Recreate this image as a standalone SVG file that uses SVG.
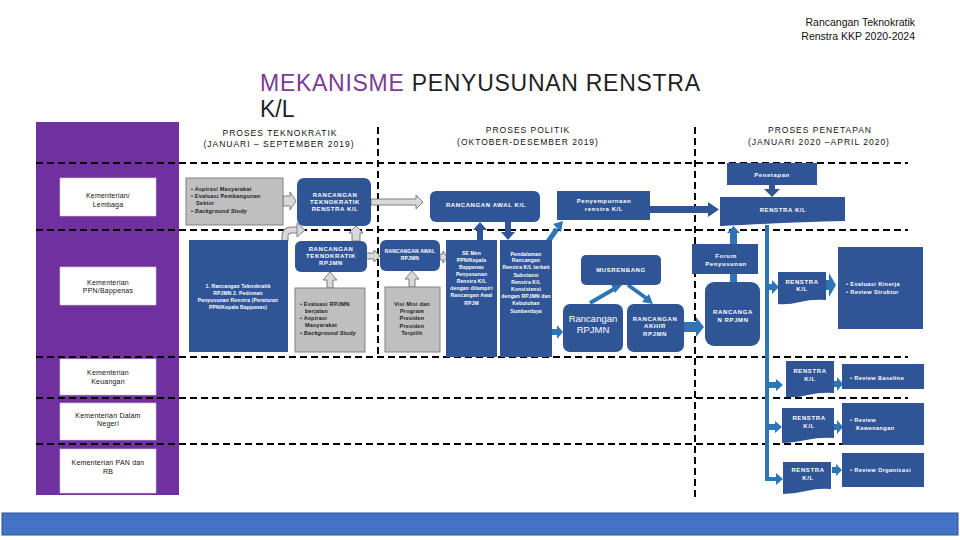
<svg xmlns="http://www.w3.org/2000/svg" width="960" height="540" viewBox="0 0 960 540">
<style>
.f{font-family:"Liberation Sans",Arial,sans-serif}
.bx{fill:#2F5597}
.gb{fill:#BFBFBF;stroke:#808080;stroke-width:1}
.wb{fill:#fff;stroke:#d0d0d0;stroke-width:0.6}
.ga{fill:#D9D9D9;stroke:#7F7F7F;stroke-width:1}
.la{fill:#2E75B6}
.da{fill:#2F5597}
.dash{stroke:#000;stroke-width:2;stroke-dasharray:7 4;fill:none}
.wt{fill:#fff;font-size:6px;font-weight:bold;text-anchor:middle;letter-spacing:0.6px}
.ws{fill:#fff;font-size:5px;font-weight:bold;text-anchor:middle;letter-spacing:0.15px}
.wl{fill:#fff;font-size:5.6px;font-weight:bold;letter-spacing:0.4px}
.bt{fill:#222;font-size:5.5px;font-weight:bold;letter-spacing:0.2px}
.kt{fill:#111;font-size:7px;text-anchor:middle;letter-spacing:0.2px}
.hd{fill:#111;font-size:8.5px;text-anchor:middle;letter-spacing:1px}
</style>
<rect width="960" height="540" fill="#fff"/>

<!-- header -->
<text class="f" x="915" y="26" font-size="10.5" text-anchor="end" fill="#111">Rancangan Teknokratik</text>
<text class="f" x="915" y="40" font-size="10.5" text-anchor="end" fill="#111">Renstra KKP 2020-2024</text>
<text class="f" x="260" y="91" font-size="23" fill="#1f1f1f" textLength="440" lengthAdjust="spacing"><tspan fill="#7B3A96">MEKANISME</tspan> PENYUSUNAN RENSTRA</text>
<text class="f" x="260" y="117" font-size="23" fill="#1f1f1f">K/L</text>

<!-- purple column -->
<rect x="36" y="122" width="143" height="373" fill="#7030A0"/>

<!-- column headers -->
<text class="f hd" x="280" y="136">PROSES TEKNOKRATIK</text>
<text class="f hd" x="279" y="147">(JANUARI – SEPTEMBER 2019)</text>
<text class="f hd" x="528" y="133">PROSES POLITIK</text>
<text class="f hd" x="528" y="145">(OKTOBER-DESEMBER 2019)</text>
<text class="f hd" x="820" y="133">PROSES PENETAPAN</text>
<text class="f hd" x="819" y="145">(JANUARI 2020 –APRIL 2020)</text>

<!-- dashed grid -->
<g id="grid">
<line class="dash" x1="36" y1="163" x2="908" y2="163"/>
<line class="dash" x1="36" y1="230" x2="908" y2="230"/>
<line class="dash" x1="36" y1="357" x2="908" y2="357"/>
<line class="dash" x1="36" y1="398" x2="908" y2="398"/>
<line class="dash" x1="36" y1="444" x2="910" y2="444"/>
<line class="dash" x1="378" y1="127" x2="378" y2="357"/>
<line class="dash" x1="695" y1="127" x2="695" y2="497"/>
</g>

<!-- left labels -->
<g id="kl"><rect class="wb" x="60" y="178" width="96" height="38"/>
<text class="f kt" x="108" y="198">Kementerian/</text><text class="f kt" x="108" y="207">Lembaga</text></g>
<g id="ppn"><rect class="wb" x="60" y="267" width="96" height="38"/>
<text class="f kt" x="108" y="285">Kementerian</text><text class="f kt" x="108" y="293">PPN/Bappenas</text></g>
<g id="keu"><rect class="wb" x="60" y="359" width="96" height="36"/>
<text class="f kt" x="108" y="375">Kementerian</text><text class="f kt" x="108" y="384">Keuangan</text></g>
<g id="dn"><rect class="wb" x="60" y="403" width="96" height="37"/>
<text class="f kt" x="108" y="418">Kementerian Dalam</text><text class="f kt" x="108" y="426">Negeri</text></g>
<g id="pan"><rect class="wb" x="60" y="449" width="96" height="44"/>
<text class="f kt" x="108" y="465">Kementerian PAN dan</text><text class="f kt" x="108" y="474">RB</text></g>

<!-- connectors -->
<g id="connectors">
<polygon class="ga" points="283,196 290,196 290,192 296,201 290,210 290,206 283,206"/>
<polygon class="ga" points="371,199 416,199 416,195 423,202 416,209 416,205 371,205"/>
<polygon class="ga" points="352,241 352,233 349,233 356,226 363,233 360,233 360,241"/>
<path d="M285,241 V236 Q285,230 292,230 H298" fill="none" stroke="#7F7F7F" stroke-width="7"/>
<path d="M285,241 V236 Q285,230 292,230 H298" fill="none" stroke="#D9D9D9" stroke-width="5"/>
<polygon class="ga" points="297,223 305,230 297,237"/>
<polygon class="ga" points="327,288 327,280 323,280 330,272 337,280 333,280 333,288"/>
<polygon class="ga" points="366,253 374,253 374,250 380,256 374,262 374,259 366,259"/>
<polygon class="ga" points="409,287 409,279 405,279 412,271 419,279 415,279 415,287"/>
<polygon class="ga" points="440,254 443,254 443,251 447,257 443,263 443,260 440,260"/>
<polygon class="da" points="477,240 477,230 473,230 480,222 487,230 483,230 483,240"/>
<polygon class="da" points="505,222 511,222 511,232 515,232 508,240 501,232 505,232"/>
<line x1="547" y1="243" x2="557" y2="229" stroke="#2E75B6" stroke-width="5"/>
<polygon class="la" points="553,224 563,221 561,232"/>
<polygon class="da" points="650,206 708,206 708,202 719,209.5 708,217 708,213 650,213"/>
<polygon class="da" points="769,185 775,185 775,189 780,189 772,197 764,189 769,189"/>
<polygon class="la" points="730,244 730,233 727,233 733.5,226 740,233 737,233 737,244"/>
<rect class="la" x="730" y="274" width="7" height="9"/>
<line x1="590" y1="303" x2="614" y2="289" stroke="#2E75B6" stroke-width="4"/>
<polygon class="la" points="611,284 622,285 615,293"/>
<line x1="628" y1="285" x2="646" y2="298" stroke="#2E75B6" stroke-width="4"/>
<polygon class="la" points="642,302 653,304 649,294"/>
<polygon class="la" points="552,329 557,329 557,325 563,332 557,339 557,335 552,335"/>
<polygon class="la" points="684,322 696,322 696,317 704,327 696,337 696,332 684,332"/>
<rect class="la" x="765" y="225" width="4" height="256"/>
<polygon class="la" points="769,284 772,284 772,280 779,287 772,294 772,290 769,290"/>
<polygon class="la" points="769,382 776,382 776,379 783,385 776,391 776,388 769,388"/>
<polygon class="la" points="769,424 775,424 775,421 782,427 775,433 775,430 769,430"/>
<polygon class="la" points="765,477 776,477 776,473 783,479 776,485 776,481 765,481"/>
<polygon class="la" points="826,280 829,280 829,273 836,285 829,297 829,290 826,290"/>
<polygon class="la" points="834,381 837,381 837,377 843,384 837,391 837,387 834,387"/>
<polygon class="la" points="834,424 837,424 837,420 843,427 837,434 837,430 834,430"/>
<polygon class="la" points="832,467 836,467 836,464 842,470 836,476 836,473 832,473"/>
</g>

<!-- row 1 -->
<g id="input1"><rect class="gb" x="186" y="178" width="97" height="47"/>
<text class="f bt" x="191" y="191">• Aspirasi Masyarakat</text>
<text class="f bt" x="191" y="198">• Evaluasi Pembangunan</text>
<text class="f bt" x="196" y="205">Sektor</text>
<text class="f bt" x="191" y="213">• <tspan font-style="italic">Background Study</tspan></text></g>
<g id="rtr"><rect class="bx" x="297" y="178" width="74" height="48" rx="7"/>
<text class="f wt" x="335" y="197">RANCANGAN</text><text class="f wt" x="335" y="204">TEKNOKRATIK</text><text class="f wt" x="335" y="211">RENSTRA K/L</text></g>
<g id="rak"><rect class="bx" x="430" y="191" width="110" height="31" rx="6"/>
<text class="f wt" x="486" y="207">RANCANGAN AWAL K/L</text></g>
<g id="peny"><rect class="bx" x="557" y="191" width="93" height="29"/>
<text class="f wt" x="604" y="203" font-weight="normal">Penyempurnaan</text><text class="f wt" x="604" y="211" font-weight="normal">renstra K/L</text></g>
<g id="penetapan"><rect class="bx" x="727" y="163" width="90" height="22"/>
<text class="f wt" x="772" y="177" font-size="5.5">Penetapan</text></g>
<g id="renstra"><path class="bx" d="M720,197 H845 V221 Q800,222 760,224 T720,226 Z"/>
<text class="f wt" x="783" y="212">RENSTRA K/L</text></g>

<!-- row 2 -->
<g id="bapp"><rect class="bx" x="189" y="240" width="99" height="112"/>
<text class="f ws" x="238" y="288" font-size="5.2">1. Rancangan Teknokratik</text>
<text class="f ws" x="238" y="295" font-size="5.2">RPJMN 2. Pedoman</text>
<text class="f ws" x="238" y="302" font-size="5.2">Penyusunan Renstra (Peraturan</text>
<text class="f ws" x="238" y="309" font-size="5.2">PPN/Kepala Bappenas)</text></g>
<g id="rtrpjmn"><rect class="bx" x="295" y="241" width="72" height="31" rx="6"/>
<text class="f wt" x="331" y="251">RANCANGAN</text><text class="f wt" x="331" y="258">TEKNOKRATIK</text><text class="f wt" x="331" y="265">RPJMN</text></g>
<g id="input2"><rect class="gb" x="295" y="288" width="70" height="64"/>
<text class="f bt" x="300" y="306">• Evaluasi RPJMN</text>
<text class="f bt" x="305" y="313">berjalan</text>
<text class="f bt" x="300" y="320">• Aspirasi</text>
<text class="f bt" x="305" y="327">Masyarakat</text>
<text class="f bt" x="300" y="335">• <tspan font-style="italic">Background Study</tspan></text></g>
<g id="rarpjmn"><rect class="bx" x="380" y="240" width="60" height="31" rx="6"/>
<text class="f ws" x="410" y="253">RANCANGAN AWAL</text><text class="f ws" x="410" y="260">RPJMN</text></g>
<g id="visi"><rect class="gb" x="385" y="287" width="55" height="65"/>
<text class="f bt" x="412" y="306" text-anchor="middle">Visi Misi dan</text>
<text class="f bt" x="412" y="313" text-anchor="middle">Program</text>
<text class="f bt" x="412" y="320" text-anchor="middle">Presiden</text>
<text class="f bt" x="412" y="328" text-anchor="middle">Presiden</text>
<text class="f bt" x="412" y="335" text-anchor="middle">Terpilih</text></g>
<g id="se"><rect class="bx" x="446" y="240" width="51" height="117"/>
<text class="f ws" x="471.5" y="255">SE Men</text>
<text class="f ws" x="471.5" y="262">PPN/Kepala</text>
<text class="f ws" x="471.5" y="269">Bappenas</text>
<text class="f ws" x="471.5" y="276">Penyusunan</text>
<text class="f ws" x="471.5" y="283">Renstra K/L</text>
<text class="f ws" x="471.5" y="290" font-size="4.8" letter-spacing="0">dengan dilampiri</text>
<text class="f ws" x="471.5" y="297" font-size="4.8" letter-spacing="0">Rancangan Awal</text>
<text class="f ws" x="471.5" y="305">RPJM</text></g>
<g id="pend"><rect class="bx" x="500" y="240" width="52" height="117"/>
<text class="f ws" x="526" y="256">Pendalaman</text>
<text class="f ws" x="526" y="262">Rancangan</text>
<text class="f ws" x="526" y="269" font-size="4.8" letter-spacing="0">Renstra K/L terkait</text>
<text class="f ws" x="526" y="277">Substansi</text>
<text class="f ws" x="526" y="284">Renstra K/L</text>
<text class="f ws" x="526" y="291">Konsistensi</text>
<text class="f ws" x="526" y="298" font-size="4.8" letter-spacing="0">dengan RPJMN dan</text>
<text class="f ws" x="526" y="305">Kebutuhan</text>
<text class="f ws" x="526" y="313">Sumberdaya</text></g>
<g id="musren"><rect class="bx" x="581" y="255" width="80" height="30" rx="5"/>
<text class="f wt" x="621" y="272">MUSRENBANG</text></g>
<g id="rrpjmn"><rect class="bx" x="563" y="304" width="60" height="48" rx="7"/>
<text class="f" x="593" y="322" font-size="9.5" fill="#fff" text-anchor="middle">Rancangan</text>
<text class="f" x="593" y="333" font-size="9.5" fill="#fff" text-anchor="middle">RPJMN</text></g>
<g id="rakhir"><rect class="bx" x="627" y="304" width="57" height="48" rx="7"/>
<text class="f wt" x="655" y="321" letter-spacing="0.4">RANCANGAN</text><text class="f wt" x="655" y="328">AKHIR</text><text class="f wt" x="655" y="336">RPJMN</text></g>
<g id="forum"><rect class="bx" x="692" y="244" width="66" height="30"/>
<text class="f wt" x="726" y="258" font-size="5.5" font-weight="normal">Forum</text><text class="f wt" x="726" y="266" font-size="5.5" font-weight="normal">Penyusunan</text></g>
<g id="rakhir2"><rect class="bx" x="705" y="282" width="55" height="64" rx="9"/>
<text class="f wt" x="733" y="314">RANCANGA</text><text class="f wt" x="733" y="322">N RPJMN</text></g>
<g id="r2"><path class="bx" d="M778,272 H826 V300 Q812,299 800,302 T778,304 Z"/>
<text class="f wt" x="802" y="284">RENSTRA</text><text class="f wt" x="802" y="291">K/L</text></g>
<g id="ev"><rect class="bx" x="838" y="247" width="85" height="82"/>
<text class="f wl" x="846" y="286">• Evaluasi Kinerja</text><text class="f wl" x="846" y="294">• Review Struktur</text></g>

<!-- rows 3-5 -->
<g id="r3"><path class="bx" d="M786,361 H834 V393 Q820,392 808,395 T786,397 Z"/>
<text class="f wt" x="810" y="373">RENSTRA</text><text class="f wt" x="810" y="381">K/L</text></g>
<g id="rv3"><rect class="bx" x="842" y="364" width="82" height="25"/>
<text class="f wl" x="850" y="380">• Review Baseline</text></g>
<g id="r4"><path class="bx" d="M782,408 H834 V438 Q820,437 806,440 T782,443 Z"/>
<text class="f wt" x="809" y="420">RENSTRA</text><text class="f wt" x="809" y="428">K/L</text></g>
<g id="rv4"><rect class="bx" x="842" y="403" width="82" height="42"/>
<text class="f wl" x="850" y="422">• Review</text><text class="f wl" x="856" y="430">Kewenangan</text></g>
<g id="r5"><path class="bx" d="M783,462 H831 V489 Q818,488 806,491 T783,494 Z"/>
<text class="f wt" x="808" y="472">RENSTRA</text><text class="f wt" x="808" y="480">K/L</text></g>
<g id="rv5"><rect class="bx" x="842" y="453" width="82" height="34"/>
<text class="f wl" x="850" y="472">• Review Organisasi</text></g>

<!-- bottom bar -->
<rect x="2" y="513" width="956" height="22" fill="#4472C4" stroke="#2F528F" stroke-width="1"/>
</svg>
